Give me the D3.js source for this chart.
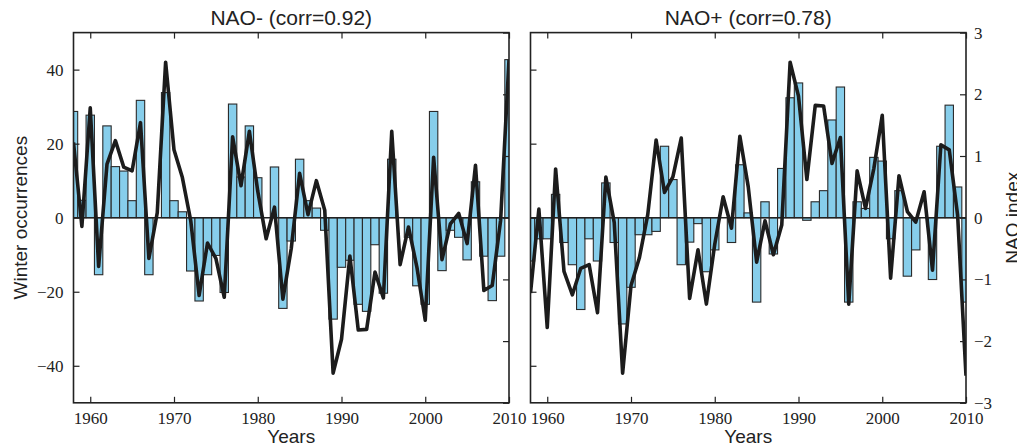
<!DOCTYPE html>
<html>
<head>
<meta charset="utf-8">
<script src="https://cdn.jsdelivr.net/npm/d3@7"></script>
<style>
  body { margin: 0; background: #fff; }
  .tick text { font-family: "Liberation Serif", "DejaVu Serif", serif; }
</style>
</head>
<body>
<svg id="chart" width="1017" height="446"></svg>
<script>
// 1: DATA
const years = [1958, 1959, 1960, 1961, 1962, 1963, 1964, 1965, 1966, 1967,
               1968, 1969, 1970, 1971, 1972, 1973, 1974, 1975, 1976, 1977,
               1978, 1979, 1980, 1981, 1982, 1983, 1984, 1985, 1986, 1987,
               1988, 1989, 1990, 1991, 1992, 1993, 1994, 1995, 1996, 1997,
               1998, 1999, 2000, 2001, 2002, 2003, 2004, 2005, 2006, 2007,
               2008, 2009, 2010];

// winter occurrence anomalies of the NAO- regime
const naoMinusOcc = [28.7, 4.7, 27.7, -15.4, 24.8, 13.8, 12.6, 4.6, 31.7, -15.4,
                     0, 33.8, 4.6, 1.6, -14.4, -22.5, -15.4, -10.2, -20.2, 30.7,
                     11, 24.8, 10.8, 0, 13.7, -24.5, -6.3, 15.8, 4.6, 2.6,
                     -3.4, -27.4, -13.4, -11.5, -23.4, -25.3, -7.3, -20.4, 15.8, 0,
                     -5.3, -18.4, -23.4, 28.7, -14.3, -3.4, -5.3, -11.4, 9.7, -10.4,
                     -22.4, -10.4, 42.7];

// winter occurrence anomalies of the NAO+ regime
const naoPlusOcc = [-11.7, -5.7, -5.7, 6.3, -6.7, -12.7, -24.8, -5.7, -11.7, 9.4,
                    -6.7, -28.7, -18.8, -4.6, -4.6, -3.7, 19.3, 10.3, -12.7, -6.6,
                    -1.6, -14.6, -8.7, 0, -6.7, 14.3, 1.3, -22.8, 4.3, -9.8,
                    13.3, 32.4, 36.4, -0.7, 4.3, 7.3, 26.4, 35.3, -22.8, 4.3,
                    2.5, 16.3, 15.3, -5.7, 7.3, -15.8, -8.7, 0, -16.7, 19.3,
                    30.4, 8.3, -22.8];

// winter NAO index
const naoIndex = [-1.22, 0.14, -1.78, 0.79, -0.87, -1.25, -0.82, -0.76, -1.54, 0.66,
                  -0.08, -2.52, -1.1, -0.65, 0.05, 1.26, 0.41, 0.66, 1.29, -1.31,
                  -0.52, -1.4, -0.43, 0.34, -0.17, 1.32, 0.5, -0.72, -0.05, -0.6,
                  -0.12, 2.52, 1.97, 0.62, 1.82, 1.81, 0.88, 1.3, -1.4, 0.76,
                  0.15, 0.8, 1.66, -0.98, 0.68, 0.1, -0.07, 0.42, -0.85, 1.18,
                  1.1, 0.04, -2.56];

const xTicks = [1960, 1970, 1980, 1990, 2000, 2010];
const occTicks = [-40, -20, 0, 20, 40];
const idxTicks = [-3, -2, -1, 0, 1, 2, 3];
const titles = ["NAO- (corr=0.92)", "NAO+ (corr=0.78)"];

// 2: LAYOUT
const plotTop = 32.6, plotBottom = 402.8;
const panelW = 435.5;
const panelX = [73.5, 530.5];
const sans = "'Liberation Sans', Arial, sans-serif";

const svg = d3.select("#chart");

const h = plotBottom - plotTop;
const xScale = d3.scaleLinear().domain([1958, 2010]).range([0, panelW]);
const yOcc = d3.scaleLinear().domain([-50, 50]).range([h, 0]);
const yIdx = d3.scaleLinear().domain([-3, 3]).range([h, 0]);

const panels = [
    { occ: naoMinusOcc, sign: -1, title: titles[0] },
    { occ: naoPlusOcc, sign: 1, title: titles[1] }
];

panels.forEach((p, i) => {
    const g = svg.append("g")
        .attr("transform", `translate(${panelX[i]},${plotTop})`);

    g.append("clipPath").attr("id", "clip" + i)
        .append("rect").attr("width", panelW).attr("height", h);

    const plot = g.append("g").attr("clip-path", `url(#clip${i})`);
    const bw = xScale(1959) - xScale(1958);

    // 3: BARS
    plot.selectAll(".bar")
        .data(years.map((y, j) => ({ year: y, v: p.occ[j] })))
        .enter()
        .append("rect")
        .attr("class", "bar")
        .attr("x", d => xScale(d.year) - bw / 2)
        .attr("width", bw)
        .attr("y", d => yOcc(Math.max(d.v, 0)))
        .attr("height", d => Math.abs(yOcc(d.v) - yOcc(0)))
        .attr("fill", "#87CEEB")
        .attr("stroke", "#2a2a2a")
        .attr("stroke-width", 1.1);

    // zero line
    plot.append("line")
        .attr("x1", 0).attr("x2", panelW)
        .attr("y1", yOcc(0)).attr("y2", yOcc(0))
        .attr("stroke", "#222").attr("stroke-width", 1.5);

    // 4: NAO INDEX LINE (inverted for NAO-)
    const line = d3.line()
        .x((d, j) => xScale(years[j]))
        .y(d => yIdx(p.sign * d));

    plot.append("path")
        .datum(naoIndex)
        .attr("fill", "none")
        .attr("stroke", "#1c1c1c")
        .attr("stroke-width", 3.6)
        .attr("stroke-linejoin", "round")
        .attr("d", line);

    // 5: AXES (ticks pointing inwards)
    const bottomAxis = g.append("g")
        .attr("transform", `translate(0,${h})`)
        .call(d3.axisBottom(xScale).tickValues(xTicks).tickSize(-6).tickPadding(9).tickFormat(d3.format("d")));
    g.append("g")
        .call(d3.axisTop(xScale).tickValues(xTicks).tickSize(-6).tickFormat(""));

    const leftAxis = g.append("g")
        .call(d3.axisLeft(yOcc).tickValues(occTicks).tickSize(-6).tickPadding(10)
            .tickFormat(i === 0 ? d3.format("d") : ""));
    const rightAxis = g.append("g")
        .attr("transform", `translate(${panelW},0)`)
        .call(d3.axisRight(yIdx).tickValues(idxTicks).tickSize(-6).tickPadding(8)
            .tickFormat(i === 1 ? d3.format("d") : ""));

    [bottomAxis, leftAxis, rightAxis].forEach(a => {
        a.attr("font-size", 17);
        a.selectAll("text").attr("fill", "#222");
    });
    g.selectAll(".domain").remove();
    g.selectAll(".tick line").attr("stroke", "#222").attr("stroke-width", 1.2);

    // frame
    g.append("rect")
        .attr("width", panelW).attr("height", h)
        .attr("fill", "none")
        .attr("stroke", "#222")
        .attr("stroke-width", 1.6);

    // 6: LABELS
    g.append("text")
        .attr("x", panelW / 2)
        .attr("y", -8)
        .attr("text-anchor", "middle")
        .attr("font-family", sans)
        .attr("font-size", 21)
        .attr("fill", "#222")
        .text(p.title);

    g.append("text")
        .attr("x", panelW / 2)
        .attr("y", h + 40)
        .attr("text-anchor", "middle")
        .attr("font-family", sans)
        .attr("font-size", 19)
        .attr("fill", "#222")
        .text("Years");
});

svg.append("text")
    .attr("transform", `translate(27,${(plotTop + plotBottom) / 2}) rotate(-90)`)
    .attr("text-anchor", "middle")
    .attr("font-family", sans)
    .attr("font-size", 19)
    .attr("fill", "#222")
    .text("Winter occurrences");

svg.append("text")
    .attr("transform", `translate(1019,${(plotTop + plotBottom) / 2}) rotate(-90)`)
    .attr("text-anchor", "middle")
    .attr("font-family", sans)
    .attr("font-size", 19)
    .attr("fill", "#222")
    .text("NAO index");
</script>
</body>
</html>
